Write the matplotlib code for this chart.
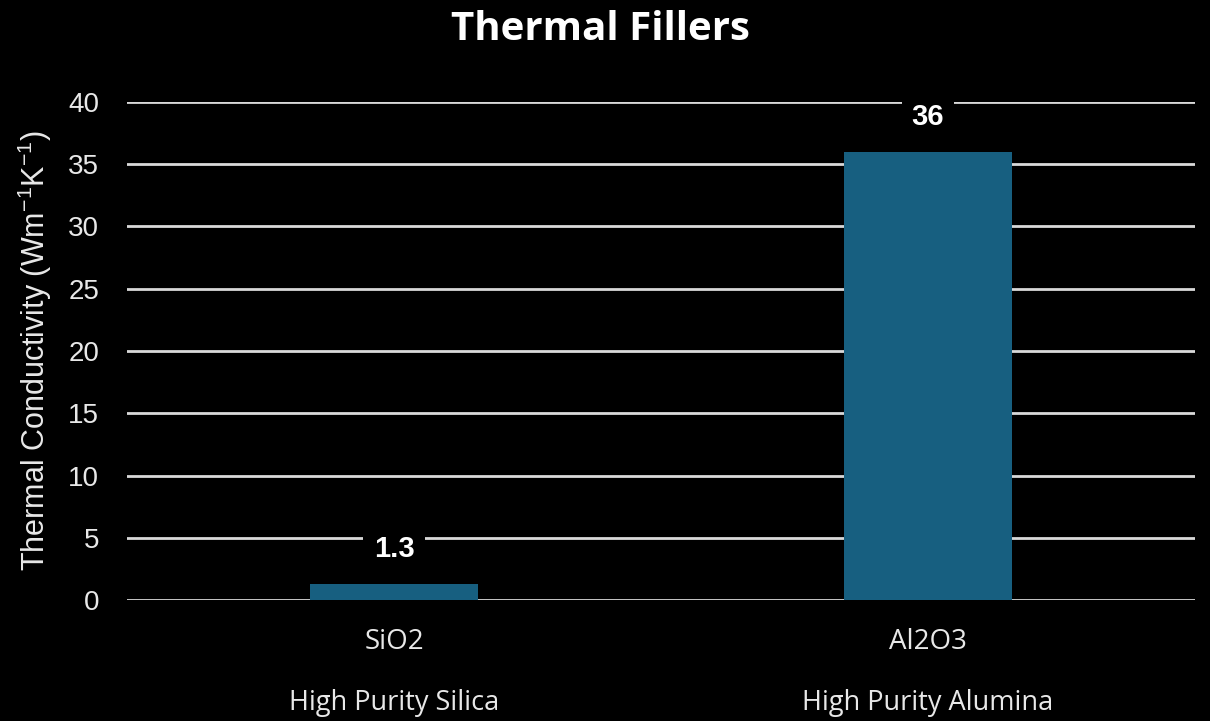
import matplotlib
matplotlib.use("Agg")
import matplotlib.pyplot as plt
from matplotlib.transforms import blended_transform_factory

plt.rcParams["mathtext.fontset"] = "custom"
plt.rcParams["mathtext.rm"] = "Liberation Sans"
plt.rcParams["mathtext.default"] = "regular"

# Data
formulas = ["SiO2", "Al2O3"]
materials = ["High Purity Silica", "High Purity Alumina"]
conductivity = [1.3, 36]
value_labels = ["1.3", "36"]
y_ticks = [0, 5, 10, 15, 20, 25, 30, 35, 40]

bar_color = "#175f80"
grid_color = "#d9d9d9"
text_color = "#e8e8e8"

fig = plt.figure(figsize=(12.1, 7.21), dpi=100, facecolor="black")
ax = fig.add_axes([127 / 1210, 121 / 721, 1068 / 1210, 498 / 721], facecolor="black")

x = list(range(len(formulas)))
ax.bar(x, conductivity, width=0.315, color=bar_color, zorder=3)

ax.set_xlim(-0.5, len(formulas) - 0.5)
ax.set_ylim(0, 40)
ax.set_yticks(y_ticks)
ax.set_yticklabels([str(t) for t in y_ticks], family="Liberation Sans", fontsize=20, color=text_color)
ax.tick_params(axis="y", length=0, pad=20)
ax.yaxis.grid(True, color=grid_color, linewidth=2, zorder=1)
ax.set_axisbelow(True)
for s in ax.spines.values():
    s.set_visible(False)

ax.set_xticks(x)
ax.set_xticklabels(formulas, family="Open Sans", fontsize=20, color=text_color)
ax.tick_params(axis="x", length=0, pad=20)

trans = blended_transform_factory(ax.transData, fig.transFigure)
for xi, name in zip(x, materials):
    ax.text(xi, 1 - 703 / 721, name, transform=trans, ha="center", va="center",
            family="Open Sans", fontsize=19.5, color=text_color)

# Value labels on boxes that mask the gridlines
for xi, v, lab in zip(x, conductivity, value_labels):
    ax.annotate(lab, (xi, v), xytext=(0, 25), textcoords="offset points",
                ha="center", va="center", family="Liberation Sans", fontweight="bold",
                fontsize=21, color="white", zorder=5,
                bbox=dict(boxstyle="square,pad=0.35", fc="black", ec="none"))

ax.set_ylabel("Thermal Conductivity (Wm$^{-1}$K$^{-1}$)", family="Liberation Sans",
              fontsize=22, color=text_color, labelpad=10)

fig.text(600 / 1210, 1 - 30 / 721, "Thermal Fillers", ha="center", va="center",
         family="Open Sans", fontweight="bold", fontsize=29, color="white")

fig.savefig("out.png", dpi=100, facecolor="black")
